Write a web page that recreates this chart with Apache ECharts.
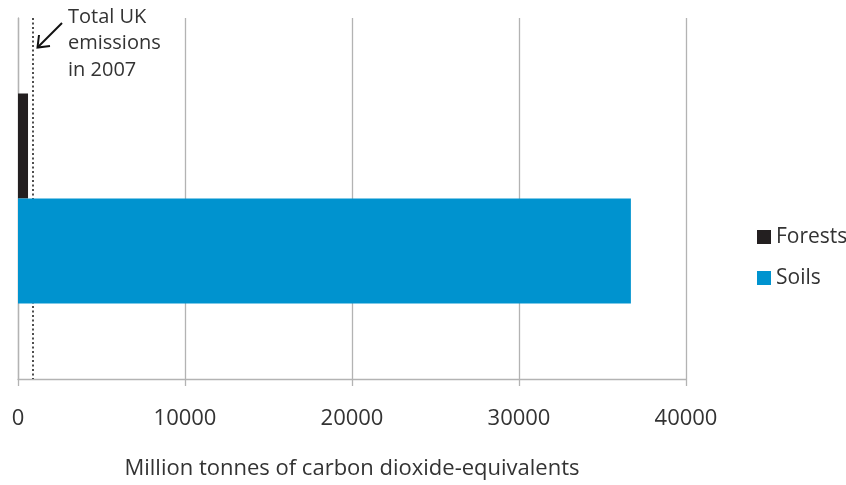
<!DOCTYPE html>
<html><head><meta charset="utf-8">
<script src="https://cdn.jsdelivr.net/npm/echarts@6/dist/echarts.min.js"></script>
<style>html,body{margin:0;padding:0;background:#fff}#c{width:846px;height:485px}</style>
</head><body><div id="c"></div>
<script>
const categories = ['Stock'];
const forests = [600];
const soils = [36700];
const ukEmissions2007 = 880;
const xTicks = [0, 10000, 20000, 30000, 40000];
const seriesNames = ['Forests', 'Soils'];

const FONT = '"Open Sans", "Noto Sans", sans-serif';
const TXT = '#333333';
const chart = echarts.init(document.getElementById('c'), null, {renderer: 'canvas'});
chart.setOption({
  animation: false,
  backgroundColor: '#fff',
  grid: {left: 18, right: 160, top: 18, bottom: 99, containLabel: false},
  legend: {
    data: seriesNames, orient: 'vertical', left: 752, top: 221,
    itemWidth: 14, itemHeight: 14, itemGap: 19, icon: 'rect',
    textStyle: {fontFamily: FONT, fontSize: 21, color: TXT, lineHeight: 22}
  },
  xAxis: {
    type: 'value', min: xTicks[0], max: xTicks[xTicks.length - 1], interval: 10000,
    name: 'Million tonnes of carbon dioxide-equivalents', nameLocation: 'middle', nameGap: 79,
    nameTextStyle: {fontFamily: FONT, fontSize: 22, color: TXT},
    axisLine: {show: true, lineStyle: {color: '#b3b3b3', width: 1.3}},
    axisTick: {show: true, length: 7, lineStyle: {color: '#b3b3b3', width: 1.3}},
    axisLabel: {fontFamily: FONT, fontSize: 22, color: TXT, margin: 29,
      formatter: function (v) { return String(v); }},
    splitLine: {show: true, lineStyle: {color: '#b3b3b3', width: 1.3}}
  },
  yAxis: {
    type: 'category', data: categories, inverse: true,
    axisLine: {show: true, lineStyle: {color: '#b3b3b3', width: 1.3}},
    axisTick: {show: false}, axisLabel: {show: false}, splitLine: {show: false}
  },
  series: [
    {name: 'Forests', type: 'bar', data: forests, barWidth: 105, barGap: '0%', z: 3,
     itemStyle: {color: '#231f20'}},
    {name: 'Soils', type: 'bar', data: soils, barWidth: 105, barGap: '0%', z: 3,
     itemStyle: {color: '#0093cf'}},
    {name: 'UK total', type: 'line', data: [], z: 1, silent: true,
     markLine: {silent: true, z: 1, symbol: ['none', 'none'], label: {show: false},
       lineStyle: {type: [2, 2.5], color: '#222', width: 1.6},
       data: [{xAxis: ukEmissions2007}]}}
  ],
  graphic: [
    {type: 'text', left: 68, top: 4, z: 10,
     style: {text: 'Total UK\nemissions\nin 2007', font: '20px ' + FONT, fill: TXT, lineHeight: 26.5}},
    {type: 'line', z: 10, shape: {x1: 62, y1: 23, x2: 37.5, y2: 47.5},
     style: {stroke: '#111', lineWidth: 2}},
    {type: 'polyline', z: 10, shape: {points: [[39, 35], [37.5, 47.5], [50, 46]]},
     style: {stroke: '#111', lineWidth: 2, fill: null}}
  ]
});
</script></body></html>
